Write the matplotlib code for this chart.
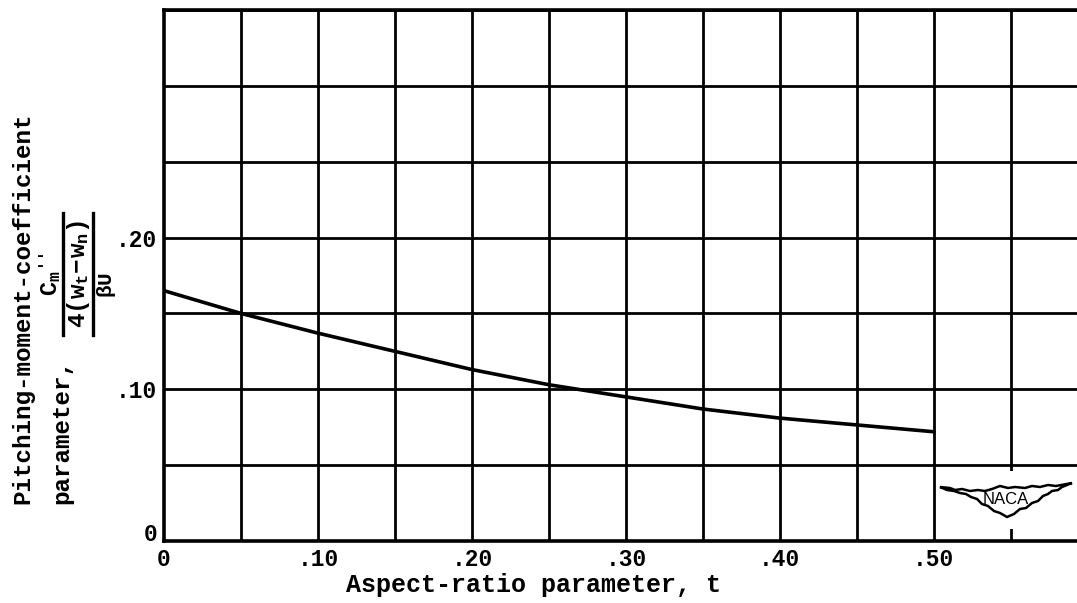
import numpy as np
import matplotlib
matplotlib.use('Agg')
import matplotlib.pyplot as plt
import matplotlib.transforms as mtransforms
from matplotlib.lines import Line2D
from matplotlib.patches import Polygon, Rectangle

# ---- data ----
t_vals = [0.0, 0.05, 0.10, 0.15, 0.20, 0.25, 0.30, 0.35, 0.40, 0.45, 0.50]
cm_vals = [0.165, 0.150, 0.137, 0.125, 0.113, 0.103, 0.095, 0.087, 0.081, 0.0765, 0.072]
xtick_vals = [0.0, 0.10, 0.20, 0.30, 0.40, 0.50]
xtick_labels = ['0', '.10', '.20', '.30', '.40', '.50']
ytick_vals = [0.0, 0.10, 0.20]
ytick_labels = ['0', '.10', '.20']
grid_x = [0.05, 0.10, 0.15, 0.20, 0.25, 0.30, 0.35, 0.40, 0.45, 0.50, 0.55]
grid_y = [0.05, 0.10, 0.15, 0.20, 0.25, 0.30, 0.35]

FONT = 'Liberation Mono'
plt.rcParams['mathtext.fontset'] = 'custom'
plt.rcParams['mathtext.rm'] = 'Liberation Mono:bold'
plt.rcParams['mathtext.it'] = 'Liberation Mono:bold'
plt.rcParams['mathtext.bf'] = 'Liberation Mono:bold'

W, H = 1077, 603
fig = plt.figure(figsize=(W / 100, H / 100), dpi=100)


def fx(x):
    return x / W


def fy(y):
    return 1 - y / H


ax = fig.add_axes([fx(164), fy(541), 1 - fx(164), (541 - 10) / H])
ax.set_xlim(0, 0.593)
ax.set_ylim(0, 0.35)

for gx in grid_x:
    ax.axvline(gx, color='black', lw=2.0, zorder=1)
for gy in grid_y:
    ax.axhline(gy, color='black', lw=2.0, zorder=1)

ax.plot(t_vals, cm_vals, color='black', lw=2.6, zorder=3)

for side in ['left', 'bottom', 'top']:
    ax.spines[side].set_linewidth(2.6)
ax.spines['right'].set_visible(False)

ax.set_xticks(xtick_vals)
ax.set_xticklabels(xtick_labels)
ax.set_yticks(ytick_vals)
ax.set_yticklabels(ytick_labels)
ax.tick_params(length=0, labelsize=16.5)
ax.tick_params(axis='x', pad=5)
ax.tick_params(axis='y', pad=5)
for lab in ax.get_xticklabels() + ax.get_yticklabels():
    lab.set_fontfamily(FONT)
    lab.set_fontweight('bold')
# the "0" on the y axis sits a little above the axis line in the reference
ylab0 = ax.get_yticklabels()[0]
ylab0.set_transform(ylab0.get_transform() +
                    mtransforms.ScaledTranslation(0, 9 / 100, fig.dpi_scale_trans))

# x label
fig.text(fx(534), fy(585), 'Aspect-ratio parameter, t', ha='center', va='center',
         fontsize=18, fontweight='bold', family=FONT)

# y label
fig.text(fx(23), fy(308), 'Pitching-moment-coefficient', rotation=90,
         ha='center', va='center', fontsize=17.5, fontweight='bold', family=FONT)
fig.text(fx(62), fy(432), 'parameter,', rotation=90,
         ha='center', va='center', fontsize=17.5, fontweight='bold', family=FONT)
fig.text(fx(51), fy(283), r"$C_m$", rotation=90,
         ha='center', va='center', fontsize=17)
fig.text(fx(43), fy(256), "''", rotation=90,
         ha='center', va='center', fontsize=12, fontweight='bold', family=FONT)
fig.add_artist(Line2D([fx(63), fx(63)], [fy(213), fy(335)], lw=2.4,
                      color='black', transform=fig.transFigure))
fig.text(fx(78), fy(274), r"$4(w_t\!-\!w_n)$", rotation=90,
         ha='center', va='center', fontsize=17.5)
fig.add_artist(Line2D([fx(93), fx(93)], [fy(213), fy(335)], lw=2.4,
                      color='black', transform=fig.transFigure))
fig.text(fx(107), fy(285), r"$\beta U$", rotation=90,
         ha='center', va='center', fontsize=15)

# NACA logo
fig.add_artist(Rectangle((fx(940), fy(529)), fx(1077) - fx(940), fy(471) - fy(529),
                         transform=fig.transFigure, facecolor='white',
                         edgecolor='none', zorder=5))
logo_px = [(940, 487), (950, 488), (955, 490), (962, 489), (970, 491), (978, 490),
           (985, 491), (992, 489), (1000, 486), (1008, 488), (1015, 487), (1025, 488),
           (1032, 486), (1040, 487), (1048, 485), (1056, 486), (1072, 483),
           (1062, 487), (1058, 490), (1052, 491), (1048, 494), (1043, 496), (1038, 501),
           (1032, 503), (1026, 508), (1020, 509), (1014, 514), (1007, 517), (1000, 513),
           (994, 511), (988, 506), (982, 504), (977, 499), (971, 497), (966, 494),
           (960, 493), (954, 491), (947, 490)]
fig.add_artist(Polygon([(fx(a), fy(b)) for a, b in logo_px], closed=True,
                       transform=fig.transFigure, facecolor='white',
                       edgecolor='black', lw=1.8, zorder=6))
fig.text(fx(1006), fy(500), 'NACA', ha='center', va='center', fontsize=12,
         family='Liberation Sans', zorder=7)

fig.savefig('out.png', dpi=100)
